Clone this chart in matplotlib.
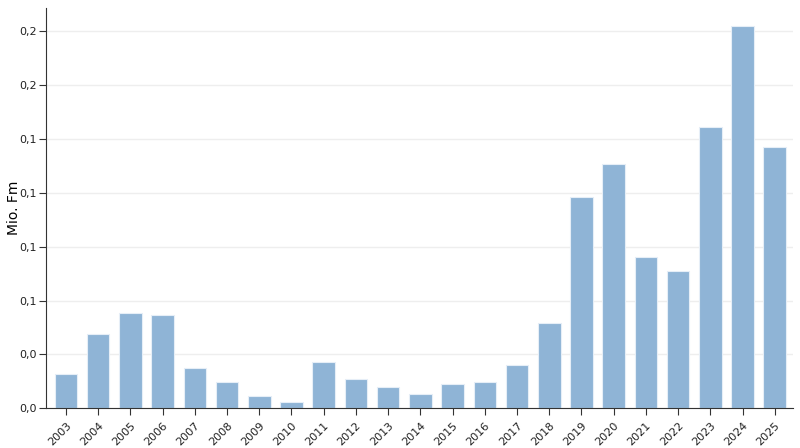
import matplotlib
matplotlib.use('Agg')
from matplotlib import pyplot as plt

# Jahre und Werte (Mio. Fm)
years = [str(y) for y in range(2003, 2026)]
values = [0.0159, 0.0345, 0.0441, 0.0431, 0.0186, 0.0123, 0.0058, 0.0031,
          0.0213, 0.0136, 0.0100, 0.0066, 0.0113, 0.0123, 0.0202, 0.0394,
          0.0979, 0.1132, 0.0700, 0.0637, 0.1305, 0.1773, 0.1212]
yticks = [0, 0.025, 0.05, 0.075, 0.1, 0.125, 0.15, 0.175]
ytick_labels = ['0,0', '0,0', '0,1', '0,1', '0,1', '0,1', '0,2', '0,2']

fig = plt.figure(figsize=(8, 4.48), dpi=100)
ax = fig.add_axes([0.0575, 0.0886, 0.9335, 0.8934])

x = list(range(len(years)))
ax.bar(x, values, width=0.7, color='#8fb4d6', edgecolor='#e6eef7',
       linewidth=0.8, zorder=2)

ax.set_xlim(-0.62, len(years) - 1 + 0.56)
ax.set_ylim(0, 0.1857)
ax.set_xticks(x)
ax.set_xticklabels(years, rotation=45, ha='right', rotation_mode='anchor',
                   fontsize=8)
ax.set_yticks(yticks)
ax.set_yticklabels(ytick_labels, fontsize=8)
ax.set_ylabel('Mio. Fm', fontsize=10)
ax.yaxis.set_label_coords(-0.034, 0.5)

ax.grid(axis='y', color='#eeeeee', linewidth=1, zorder=0)
ax.set_axisbelow(True)
for s in ['top', 'right']:
    ax.spines[s].set_visible(False)
ax.spines['left'].set_color('#333333')
ax.spines['bottom'].set_color('#333333')
ax.tick_params(colors='#333333', labelcolor='#222222', length=5)
ax.tick_params(axis='y', pad=1.5)

fig.savefig('out.png', dpi=100)
